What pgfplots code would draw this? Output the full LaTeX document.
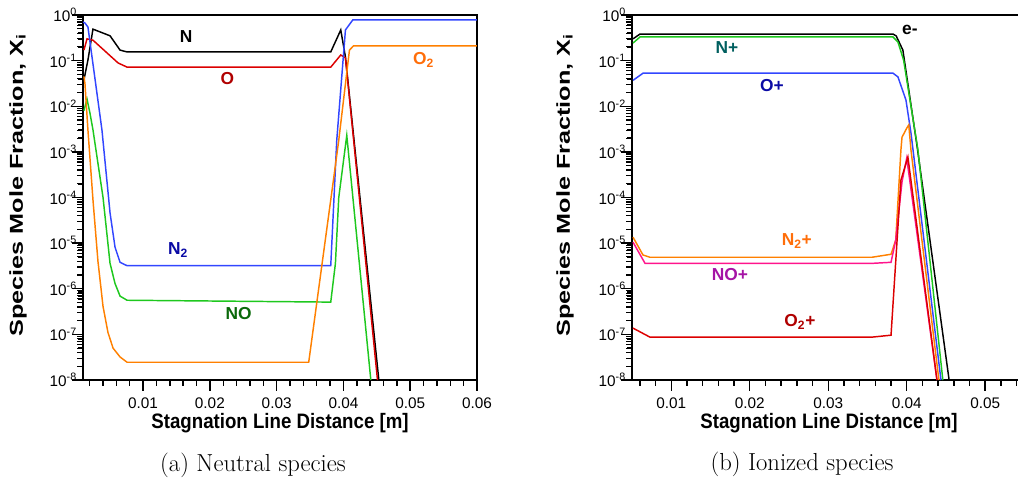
\documentclass[border=0pt]{standalone}
\usepackage{pgfplots}
\pgfplotsset{compat=1.18}
\usepackage{fontspec}
\usepackage{graphicx}
\newfontfamily\arial{Liberation Sans}
\definecolor{lnRed}{RGB}{220,0,0}
\definecolor{lbRed}{RGB}{176,0,0}
\definecolor{lnBlue}{RGB}{50,70,255}
\definecolor{lbBlue}{RGB}{10,10,165}
\definecolor{lnGreen}{RGB}{30,200,30}
\definecolor{lbGreen}{RGB}{10,105,10}
\definecolor{lnOrange}{RGB}{255,128,0}
\definecolor{lbOrange}{RGB}{255,110,10}
\definecolor{lnPink}{RGB}{255,20,140}
\definecolor{lbPurple}{RGB}{165,20,165}
\definecolor{lbTeal}{RGB}{0,95,95}
\tikzset{speclab/.style={font=\arial\bfseries\fontsize{13}{15}\selectfont}}
\begin{document}
\begin{tikzpicture}
\useasboundingbox (0,0) rectangle (763.5pt,359.25pt);
% ---------------- (a) Neutral species
\begin{axis}[scale only axis, anchor=south west, at={(62.25pt,74.25pt)},
  width=295.5pt, height=273.75pt, clip=false,
  ymode=log, ymin=1e-8, ymax=1,
  xmin=0.001, xmax=0.06, scaled x ticks=false,
  axis line style={line width=2pt},
  every tick/.style={draw=black, line width=1.1pt},
  major tick length=7pt, minor tick length=3.5pt,
  tick align=outside, tick pos=left,
  ytick={1e-8,1e-7,1e-6,1e-5,1e-4,1e-3,1e-2,1e-1,1},
  yticklabels={10\textsuperscript{-8},10\textsuperscript{-7},10\textsuperscript{-6},10\textsuperscript{-5},10\textsuperscript{-4},10\textsuperscript{-3},10\textsuperscript{-2},10\textsuperscript{-1},10\textsuperscript{0}},
  ticklabel style={font=\arial\fontsize{11.5}{13}\selectfont},
  yticklabel style={xshift=6pt},
  xticklabel style={yshift=-3pt},
  xtick={0.01,0.02,0.03,0.04,0.05,0.06},
  xticklabels={0.01,0.02,0.03,0.04,0.05,0.06}]
\addplot[black, line width=1.1pt] coordinates {(0.00114,0.0376)(0.00174,0.103)(0.00249,0.49)(0.00505,0.35)(0.00655,0.17)(0.0076,0.155)(0.0381,0.155)(0.0396,0.47)(0.0403,0.12)(0.0453,1e-8)};
\addplot[lnRed, line width=1.1pt] coordinates {(0.00114,0.17)(0.0016,0.30)(0.0025,0.28)(0.00625,0.089)(0.0076,0.072)(0.0381,0.072)(0.0396,0.133)(0.0403,0.115)(0.0451,1e-8)};
\addplot[lnBlue, line width=1.1pt] coordinates {(0.001,0.70)(0.00129,0.668)(0.00174,0.546)(0.00384,3.0e-3)(0.00505,4.6e-5)(0.0058,8.1e-6)(0.00655,3.8e-6)(0.0076,3.2e-6)(0.0381,3.2e-6)(0.039,1.8e-3)(0.0403,0.47)(0.0414,0.78)(0.06,0.78)};
\addplot[lnGreen, line width=1.1pt] coordinates {(0.00114,0.008)(0.0016,0.0144)(0.00204,7.1e-3)(0.0025,3.0e-3)(0.0040,1.0e-4)(0.00505,3.6e-6)(0.0058,1.3e-6)(0.00655,6.9e-7)(0.0076,5.6e-7)(0.0381,5.1e-7)(0.0388,3.6e-6)(0.0393,1.0e-4)(0.0405,2.3e-3)(0.0441,1e-8)};
\addplot[lnOrange, line width=1.1pt] coordinates {(0.00114,0.045)(0.00129,0.032)(0.00174,3.0e-3)(0.0025,8.6e-5)(0.00324,4.0e-6)(0.0040,4.1e-7)(0.00474,1.1e-7)(0.0055,5.0e-8)(0.00655,3.2e-8)(0.0076,2.45e-8)(0.0348,2.45e-8)(0.0385,2.4e-4)(0.0393,1.8e-3)(0.0409,0.17)(0.0415,0.21)(0.06,0.21)};
% tick marks
\pgfplotsinvokeforeach{0.01,0.02,0.03,0.04,0.05,0.06}{\draw[line width=1.1pt] (axis cs:#1,1e-8) -- ++(0pt,-8pt);}
\pgfplotsinvokeforeach{0.002,0.004,0.006,0.008,0.012,0.014,0.016,0.018,0.022,0.024,0.026,0.028,0.032,0.034,0.036,0.038,0.042,0.044,0.046,0.048,0.052,0.054,0.056,0.058}{\draw[line width=1.1pt] (axis cs:#1,1e-8) -- ++(0pt,-4.5pt);}
\pgfplotsinvokeforeach{1e-8,1e-7,1e-6,1e-5,1e-4,1e-3,1e-2,1e-1,1}{\draw[line width=1.1pt] (axis cs:0.001,#1) -- ++(-8pt,0pt);}
\pgfplotsinvokeforeach{2e-8,3e-8,4e-8,5e-8,6e-8,7e-8,8e-8,9e-8,2e-7,3e-7,4e-7,5e-7,6e-7,7e-7,8e-7,9e-7,2e-6,3e-6,4e-6,5e-6,6e-6,7e-6,8e-6,9e-6,2e-5,3e-5,4e-5,5e-5,6e-5,7e-5,8e-5,9e-5,2e-4,3e-4,4e-4,5e-4,6e-4,7e-4,8e-4,9e-4,2e-3,3e-3,4e-3,5e-3,6e-3,7e-3,8e-3,9e-3,0.02,0.03,0.04,0.05,0.06,0.07,0.08,0.09,0.2,0.3,0.4,0.5,0.6,0.7,0.8,0.9}{\draw[line width=0.9pt] (axis cs:0.001,#1) -- ++(-4.5pt,0pt);}
\node[speclab,text=black] at (axis cs:0.01645,0.33) {N};
\node[speclab,text=lbRed] at (axis cs:0.0226,0.0397) {O};
\node[speclab,text=lbOrange] at (axis cs:0.052,0.103) {O\textsubscript{2}};
\node[speclab,text=lbBlue] at (axis cs:0.01525,7e-6) {N\textsubscript{2}};
\node[speclab,text=lbGreen] at (axis cs:0.0243,2.9e-7) {NO};
\end{axis}
% ---------------- (b) Ionized species
\begin{axis}[scale only axis, anchor=south west, at={(474pt,74.25pt)},
  width=300pt, height=273.75pt, clip=false,
  ymode=log, ymin=1e-8, ymax=1,
  xmin=0.005, xmax=0.05596, scaled x ticks=false,
  axis line style={line width=2pt},
  every tick/.style={draw=black, line width=1.1pt},
  major tick length=7pt, minor tick length=3.5pt,
  tick align=outside, tick pos=left,
  ytick={1e-8,1e-7,1e-6,1e-5,1e-4,1e-3,1e-2,1e-1,1},
  yticklabels={10\textsuperscript{-8},10\textsuperscript{-7},10\textsuperscript{-6},10\textsuperscript{-5},10\textsuperscript{-4},10\textsuperscript{-3},10\textsuperscript{-2},10\textsuperscript{-1},10\textsuperscript{0}},
  ticklabel style={font=\arial\fontsize{11.5}{13}\selectfont},
  yticklabel style={xshift=6pt},
  xticklabel style={yshift=-3pt},
  xtick={0.01,0.02,0.03,0.04,0.05},
  xticklabels={0.01,0.02,0.03,0.04,0.05}]
\addplot[black, line width=1.1pt] coordinates {(0.00513,0.30)(0.00602,0.383)(0.03825,0.383)(0.03866,0.347)(0.03951,0.17)(0.0413,1.4e-3)(0.0454,1e-8)};
\addplot[lnGreen, line width=1.1pt] coordinates {(0.00513,0.243)(0.00602,0.33)(0.03825,0.33)(0.03888,0.256)(0.0396,0.103)(0.04143,1.1e-3)(0.0446,1e-8)};
\addplot[lnBlue, line width=1.1pt] coordinates {(0.00513,0.037)(0.0064,0.053)(0.03825,0.053)(0.03888,0.044)(0.0399,0.0137)(0.04054,2.6e-3)(0.04436,1e-8)};
\addplot[lnOrange, line width=1.1pt] coordinates {(0.00513,1.35e-5)(0.0064,5.5e-6)(0.00729,4.9e-6)(0.03557,4.9e-6)(0.038,5.7e-6)(0.0386,1.17e-5)(0.03926,1.1e-3)(0.0394,2.1e-3)(0.04,3.3e-3)(0.04026,3.9e-3)(0.04054,1.1e-3)(0.0441,1e-8)};
\addplot[lnPink, line width=1.1pt] coordinates {(0.00513,1.05e-5)(0.00666,3.6e-6)(0.03557,3.6e-6)(0.038,3.8e-6)(0.0386,1.17e-5)(0.0394,2.2e-4)(0.04,7.3e-4)(0.04385,1e-8)};
\addplot[lnRed, line width=1.1pt] coordinates {(0.00513,1.37e-7)(0.00729,8.7e-8)(0.03557,8.7e-8)(0.038,9.6e-8)(0.03926,2.4e-4)(0.04015,7.7e-4)(0.04385,1e-8)};
% tick marks
\pgfplotsinvokeforeach{0.01,0.02,0.03,0.04,0.05}{\draw[line width=1.1pt] (axis cs:#1,1e-8) -- ++(0pt,-8pt);}
\pgfplotsinvokeforeach{0.006,0.008,0.012,0.014,0.016,0.018,0.022,0.024,0.026,0.028,0.032,0.034,0.036,0.038,0.042,0.044,0.046,0.048,0.052,0.054}{\draw[line width=1.1pt] (axis cs:#1,1e-8) -- ++(0pt,-4.5pt);}
\pgfplotsinvokeforeach{1e-8,1e-7,1e-6,1e-5,1e-4,1e-3,1e-2,1e-1,1}{\draw[line width=1.1pt] (axis cs:0.005,#1) -- ++(-8pt,0pt);}
\pgfplotsinvokeforeach{2e-8,3e-8,4e-8,5e-8,6e-8,7e-8,8e-8,9e-8,2e-7,3e-7,4e-7,5e-7,6e-7,7e-7,8e-7,9e-7,2e-6,3e-6,4e-6,5e-6,6e-6,7e-6,8e-6,9e-6,2e-5,3e-5,4e-5,5e-5,6e-5,7e-5,8e-5,9e-5,2e-4,3e-4,4e-4,5e-4,6e-4,7e-4,8e-4,9e-4,2e-3,3e-3,4e-3,5e-3,6e-3,7e-3,8e-3,9e-3,0.02,0.03,0.04,0.05,0.06,0.07,0.08,0.09,0.2,0.3,0.4,0.5,0.6,0.7,0.8,0.9}{\draw[line width=0.9pt] (axis cs:0.005,#1) -- ++(-4.5pt,0pt);}
\node[speclab,text=black] at (axis cs:0.0404,0.47) {e-};
\node[speclab,text=lbTeal] at (axis cs:0.0171,0.19) {N+};
\node[speclab,text=lbBlue] at (axis cs:0.02283,0.029) {O+};
\node[speclab,text=lbOrange] at (axis cs:0.0260,1.1e-5) {N\textsubscript{2}+};
\node[speclab,text=lbPurple] at (axis cs:0.01748,2.0e-6) {NO+};
\node[speclab,text=lbRed] at (axis cs:0.0264,1.85e-7) {O\textsubscript{2}+};
\end{axis}
% ---------------- labels and captions
\node[rotate=90,font=\arial\bfseries\fontsize{14}{16}\selectfont] at (13.5pt,220.5pt) {\scalebox{1.35}[1]{Species Mole Fraction, X\textsubscript{i}}};
\node[rotate=90,font=\arial\bfseries\fontsize{14}{16}\selectfont] at (423.75pt,220.5pt) {\scalebox{1.35}[1]{Species Mole Fraction, X\textsubscript{i}}};
\node[font=\arial\bfseries\fontsize{14}{16}\selectfont] at (210pt,42pt) {\scalebox{1}[1.12]{Stagnation Line Distance [m]}};
\node[font=\arial\bfseries\fontsize{14}{16}\selectfont] at (621.75pt,42pt) {\scalebox{1}[1.12]{Stagnation Line Distance [m]}};
\node[font=\fontsize{18.5}{20}\selectfont] at (189.75pt,10pt) {(a) Neutral species};
\node[font=\fontsize{18.5}{20}\selectfont] at (601.5pt,11pt) {(b) Ionized species};
\end{tikzpicture}
\end{document}
